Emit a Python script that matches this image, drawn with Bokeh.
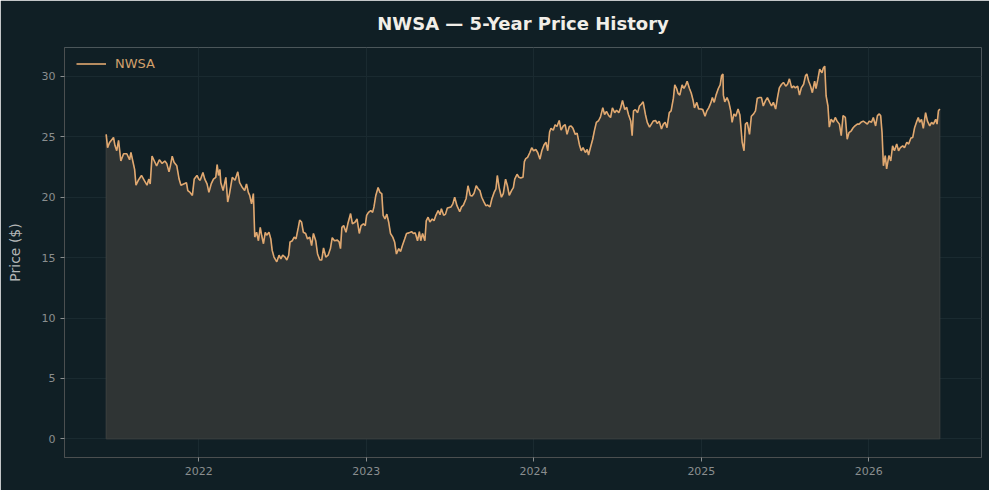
import numpy as np
import pandas as pd
from bokeh.plotting import figure
from bokeh.models import Range1d, FixedTicker, DatetimeTickFormatter, ColumnDataSource
from bokeh.embed import file_html
from bokeh.resources import INLINE

TITLE = "NWSA — 5-Year Price History"
SERIES_NAME = "NWSA"
Y_LABEL = "Price ($)"
Y_TICKS = [0, 5, 10, 15, 20, 25, 30]
X_TICK_YEARS = [2022, 2023, 2024, 2025, 2026]

dates_2021 = ["2021-06-13", "2021-06-16", "2021-06-20", "2021-06-29", "2021-07-02", "2021-07-06", "2021-07-10",
              "2021-07-15", "2021-07-21", "2021-07-28", "2021-08-03", "2021-08-06", "2021-08-10", "2021-08-14",
              "2021-08-17", "2021-08-22", "2021-08-29", "2021-09-04", "2021-09-10", "2021-09-14", "2021-09-17",
              "2021-09-21", "2021-09-26", "2021-10-01", "2021-10-07", "2021-10-13", "2021-10-19", "2021-10-23",
              "2021-10-28", "2021-10-31", "2021-11-04", "2021-11-08", "2021-11-14", "2021-11-19", "2021-11-23",
              "2021-11-29", "2021-12-05", "2021-12-08", "2021-12-13", "2021-12-18", "2021-12-22", "2021-12-28"]
prices_2021 = [25.2, 24.1, 24.5, 24.95, 24.3, 23.85, 24.7,
               23.0, 23.6, 23.6, 23.1, 23.7, 23.0, 22.3,
               21.0, 21.4, 21.8, 21.4, 21.0, 21.5, 21.1,
               23.4, 23.0, 22.6, 23.1, 22.8, 23.0, 22.8,
               22.1, 22.6, 23.4, 22.9, 22.6, 21.5, 21.0,
               21.1, 21.2, 20.55, 20.4, 20.15, 21.5, 21.8]

dates_2022 = ["2022-01-01", "2022-01-04", "2022-01-10", "2022-01-14", "2022-01-19", "2022-01-23", "2022-01-28",
              "2022-02-02", "2022-02-07", "2022-02-10", "2022-02-13", "2022-02-16", "2022-02-18", "2022-02-23",
              "2022-03-01", "2022-03-05", "2022-03-09", "2022-03-15", "2022-03-21", "2022-03-27", "2022-03-31",
              "2022-04-06", "2022-04-11", "2022-04-15", "2022-04-19", "2022-04-22", "2022-04-26", "2022-04-30",
              "2022-05-03", "2022-05-07", "2022-05-11", "2022-05-15", "2022-05-18", "2022-05-22", "2022-05-26",
              "2022-05-29", "2022-06-03", "2022-06-07", "2022-06-10", "2022-06-14", "2022-06-20", "2022-06-25",
              "2022-06-29", "2022-07-03", "2022-07-08", "2022-07-12", "2022-07-16", "2022-07-19", "2022-07-24",
              "2022-07-28", "2022-08-01", "2022-08-06", "2022-08-09", "2022-08-13", "2022-08-17", "2022-08-22",
              "2022-08-26", "2022-08-31", "2022-09-04", "2022-09-08", "2022-09-13", "2022-09-17", "2022-09-22",
              "2022-09-26", "2022-09-30", "2022-10-05", "2022-10-10", "2022-10-15", "2022-10-19", "2022-10-24",
              "2022-10-30", "2022-11-03", "2022-11-06", "2022-11-09", "2022-11-13", "2022-11-18", "2022-11-22",
              "2022-11-28", "2022-12-02", "2022-12-08", "2022-12-12", "2022-12-17", "2022-12-21", "2022-12-26",
              "2022-12-30"]
prices_2022 = [21.5, 21.4, 22.05, 21.5, 21.1, 20.4, 21.1,
               21.5, 21.65, 22.7, 21.8, 22.3, 21.2, 20.55,
               21.65, 19.6, 20.3, 21.65, 21.4, 22.1, 21.2,
               20.8, 20.55, 21.1, 20.4, 20.15, 19.45, 20.3,
               16.7, 17.1, 16.4, 17.5, 16.85, 16.15, 17.1,
               16.85, 17.1, 16.55, 15.6, 15.05, 14.65, 15.2,
               14.9, 15.2, 15.05, 14.8, 15.2, 16.3, 16.4,
               16.7, 16.55, 17.5, 18.1, 17.95, 17.1, 17.0,
               16.55, 16.7, 16.0, 17.0, 16.4, 15.3, 14.8,
               14.8, 15.8, 15.05, 15.2, 15.75, 16.65, 16.4,
               16.45, 16.3, 15.75, 17.5, 17.65, 17.1, 17.8,
               18.65, 17.8, 17.95, 18.2, 17.0, 17.65, 17.8,
               17.65]

dates_2023 = ["2023-01-02", "2023-01-06", "2023-01-11", "2023-01-15", "2023-01-18", "2023-01-22", "2023-01-27",
              "2023-01-31", "2023-02-04", "2023-02-07", "2023-02-11", "2023-02-15", "2023-02-19", "2023-02-23",
              "2023-02-28", "2023-03-04", "2023-03-08", "2023-03-13", "2023-03-17", "2023-03-21", "2023-03-26",
              "2023-03-30", "2023-04-04", "2023-04-10", "2023-04-14", "2023-04-18", "2023-04-23", "2023-04-27",
              "2023-04-30", "2023-05-04", "2023-05-09", "2023-05-12", "2023-05-16", "2023-05-20", "2023-05-25",
              "2023-05-29", "2023-06-02", "2023-06-07", "2023-06-11", "2023-06-14", "2023-06-19", "2023-06-23",
              "2023-06-27", "2023-07-05", "2023-07-09", "2023-07-13", "2023-07-18", "2023-07-24", "2023-07-28",
              "2023-08-01", "2023-08-07", "2023-08-11", "2023-08-16", "2023-08-20", "2023-08-24", "2023-08-29",
              "2023-09-02", "2023-09-06", "2023-09-10", "2023-09-15", "2023-09-19", "2023-09-23", "2023-09-28",
              "2023-10-02", "2023-10-07", "2023-10-11", "2023-10-14", "2023-10-18", "2023-10-23", "2023-10-27",
              "2023-11-01", "2023-11-05", "2023-11-09", "2023-11-14", "2023-11-18", "2023-11-21", "2023-11-26",
              "2023-11-30", "2023-12-04", "2023-12-09", "2023-12-12", "2023-12-15", "2023-12-19", "2023-12-24",
              "2023-12-28"]
prices_2023 = [18.5, 18.75, 18.9, 18.75, 19.2, 20.15, 20.8,
               20.4, 20.3, 18.5, 18.2, 18.6, 17.95, 17.0,
               16.7, 16.3, 15.3, 15.75, 15.5, 16.0, 16.55,
               17.0, 17.05, 17.15, 17.0, 17.05, 16.4, 17.15,
               16.4, 17.0, 16.4, 18.05, 18.35, 17.95, 18.2,
               18.05, 18.5, 18.9, 18.55, 19.05, 18.5, 18.6,
               19.1, 19.2, 19.45, 20.0, 19.3, 18.8, 19.2,
               19.35, 19.9, 20.95, 20.15, 20.1, 20.3, 20.95,
               20.7, 20.55, 20.0, 19.6, 19.3, 19.35, 19.2,
               19.85, 20.4, 20.7, 21.8, 20.8, 20.0, 20.3,
               21.5, 20.95, 20.15, 20.55, 20.8, 21.5, 21.9,
               21.65, 21.6, 21.65, 22.95, 23.2, 23.3, 23.7,
               24.1]

dates_2024 = ["2024-01-01", "2024-01-06", "2024-01-10", "2024-01-15", "2024-01-19", "2024-01-24", "2024-01-28",
              "2024-02-01", "2024-02-05", "2024-02-08", "2024-02-13", "2024-02-17", "2024-02-21", "2024-02-26",
              "2024-03-01", "2024-03-06", "2024-03-10", "2024-03-14", "2024-03-19", "2024-03-23", "2024-03-27",
              "2024-04-01", "2024-04-05", "2024-04-10", "2024-04-14", "2024-04-18", "2024-04-23", "2024-04-27",
              "2024-04-30", "2024-05-04", "2024-05-09", "2024-05-13", "2024-05-17", "2024-05-22", "2024-05-26",
              "2024-05-31", "2024-06-04", "2024-06-08", "2024-06-13", "2024-06-17", "2024-06-21", "2024-06-26",
              "2024-06-30", "2024-07-05", "2024-07-09", "2024-07-13", "2024-07-18", "2024-07-22", "2024-07-26",
              "2024-07-31", "2024-08-03", "2024-08-06", "2024-08-10", "2024-08-15", "2024-08-19", "2024-08-23",
              "2024-08-27", "2024-09-01", "2024-09-05", "2024-09-10", "2024-09-14", "2024-09-18", "2024-09-23",
              "2024-09-27", "2024-10-01", "2024-10-06", "2024-10-10", "2024-10-14", "2024-10-18", "2024-10-23",
              "2024-10-27", "2024-11-01", "2024-11-04", "2024-11-08", "2024-11-11", "2024-11-15", "2024-11-20",
              "2024-11-24", "2024-11-28", "2024-12-01", "2024-12-06", "2024-12-10", "2024-12-14", "2024-12-17",
              "2024-12-22", "2024-12-26", "2024-12-31"]
prices_2024 = [23.85, 23.95, 23.7, 23.15, 23.85, 24.35, 24.55,
               23.85, 25.4, 25.7, 25.55, 26.0, 25.85, 26.35,
               25.55, 25.9, 26.0, 25.2, 25.85, 25.9, 25.7,
               25.2, 25.3, 24.35, 23.85, 24.1, 23.7, 23.95,
               23.5, 24.1, 24.8, 25.55, 26.2, 26.35, 26.65,
               27.4, 26.85, 27.1, 26.75, 26.6, 27.4, 27.0,
               27.2, 27.0, 27.4, 28.0, 27.25, 27.45, 26.85,
               26.3, 25.1, 27.15, 27.25, 27.0, 27.55, 27.7,
               27.9, 26.85, 26.2, 25.8, 26.05, 26.3, 26.35,
               26.1, 26.3, 25.65, 26.05, 26.2, 25.75, 27.0,
               27.15, 28.2, 29.3, 29.0, 28.6, 28.45, 29.3,
               29.0, 29.3, 29.6, 29.0, 28.6, 28.0, 27.4,
               27.85, 27.3, 27.3]

dates_2025 = ["2025-01-04", "2025-01-09", "2025-01-13", "2025-01-17", "2025-01-22", "2025-01-25", "2025-01-29",
              "2025-02-02", "2025-02-07", "2025-02-11", "2025-02-14", "2025-02-17", "2025-02-18", "2025-02-21",
              "2025-02-26", "2025-03-02", "2025-03-06", "2025-03-09", "2025-03-13", "2025-03-17", "2025-03-22",
              "2025-03-26", "2025-03-31", "2025-04-04", "2025-04-07", "2025-04-11", "2025-04-16", "2025-04-20",
              "2025-04-25", "2025-04-29", "2025-05-03", "2025-05-08", "2025-05-12", "2025-05-16", "2025-05-21",
              "2025-05-25", "2025-05-30", "2025-06-03", "2025-06-07", "2025-06-12", "2025-06-16", "2025-06-20",
              "2025-06-25", "2025-06-29", "2025-07-04", "2025-07-08", "2025-07-12", "2025-07-17", "2025-07-21",
              "2025-07-25", "2025-07-30", "2025-08-03", "2025-08-07", "2025-08-12", "2025-08-16", "2025-08-19",
              "2025-08-23", "2025-08-27", "2025-08-31", "2025-09-05", "2025-09-08", "2025-09-12", "2025-09-16",
              "2025-09-21", "2025-09-24", "2025-09-27", "2025-09-30", "2025-10-04", "2025-10-07", "2025-10-11",
              "2025-10-16", "2025-10-20", "2025-10-24", "2025-10-29", "2025-11-02", "2025-11-06", "2025-11-11",
              "2025-11-15", "2025-11-19", "2025-11-24", "2025-11-28", "2025-12-02", "2025-12-07", "2025-12-11",
              "2025-12-15", "2025-12-20", "2025-12-24", "2025-12-29"]
prices_2025 = [27.25, 26.7, 27.15, 27.4, 27.85, 28.25, 27.85,
               28.45, 29.0, 29.3, 30.05, 30.2, 28.45, 27.9,
               28.25, 27.85, 27.15, 26.2, 26.9, 26.7, 27.3,
               26.8, 24.55, 23.85, 26.05, 26.2, 25.2, 26.7,
               26.9, 27.15, 28.2, 28.25, 28.25, 27.55, 28.0,
               28.25, 27.85, 27.55, 27.85, 27.3, 28.25, 29.05,
               29.35, 29.5, 29.2, 29.35, 29.8, 29.05, 29.2,
               29.05, 29.2, 28.45, 29.05, 29.35, 30.05, 30.2,
               29.6, 29.2, 28.65, 29.6, 29.0, 29.75, 30.6,
               30.3, 30.7, 30.85, 28.4, 27.55, 25.8, 26.45,
               26.2, 26.6, 26.3, 26.05, 25.1, 26.75, 26.6,
               24.8, 25.35, 25.5, 25.75, 25.9, 26.05, 26.05,
               26.2, 26.3, 26.2, 26.05]

dates_2026 = ["2026-01-02", "2026-01-07", "2026-01-11", "2026-01-16", "2026-01-20", "2026-01-24", "2026-01-27",
              "2026-01-30", "2026-02-02", "2026-02-06", "2026-02-09", "2026-02-14", "2026-02-18", "2026-02-22",
              "2026-02-26", "2026-03-03", "2026-03-07", "2026-03-11", "2026-03-16", "2026-03-20", "2026-03-25",
              "2026-03-29", "2026-04-03", "2026-04-07", "2026-04-11", "2026-04-16", "2026-04-19", "2026-04-22",
              "2026-04-26", "2026-04-30", "2026-05-05", "2026-05-09", "2026-05-14", "2026-05-18", "2026-05-22",
              "2026-05-27", "2026-05-30", "2026-06-02", "2026-06-05"]
prices_2026 = [26.3, 26.2, 26.6, 25.9, 26.75, 26.9, 26.75,
               25.35, 22.6, 23.45, 22.35, 23.45, 23.0, 24.25,
               23.85, 24.4, 23.85, 24.1, 24.25, 24.1, 24.55,
               24.4, 24.9, 24.95, 25.75, 26.3, 26.6, 26.2,
               26.45, 25.7, 27.0, 26.3, 25.9, 26.2, 26.05,
               26.45, 26.05, 27.15, 27.3]

dates = dates_2021 + dates_2022 + dates_2023 + dates_2024 + dates_2025 + dates_2026
prices = prices_2021 + prices_2022 + prices_2023 + prices_2024 + prices_2025 + prices_2026

EPOCH = pd.Timestamp("1970-01-01")
def to_ms(ts):
    return float((pd.Timestamp(ts) - EPOCH) / pd.Timedelta(milliseconds=1))

x_ms = [to_ms(d) for d in dates]
src = ColumnDataSource(dict(x=x_ms, y=prices))

span = x_ms[-1] - x_ms[0]
x0, x1 = x_ms[0] - 0.05 * span, x_ms[-1] + 0.05 * span
ymax = max(prices)
ypad = 0.05 * ymax

BG = "#101f25"
p = figure(width=989, height=490, output_backend="svg", toolbar_location=None,
           x_axis_type="datetime",
           x_range=Range1d(x0, x1), y_range=Range1d(-ypad, ymax + ypad),
           min_border_left=64, min_border_right=8, min_border_top=46, min_border_bottom=33)
p.background_fill_color = BG
p.border_fill_color = BG
p.outline_line_color = None

p.title.text = TITLE
p.title.align = "center"
p.title.vertical_align = "top"
p.title.text_color = "#f1eee8"
p.title.text_font = "DejaVu Sans"
p.title.text_font_size = "18px"
p.title.text_font_style = "bold"
p.title.standoff = 24

# area
area_x = [x_ms[0]] + x_ms + [x_ms[-1]]
area_y = [0] + prices + [0]
p.patch(area_x, area_y, fill_color="#2f3434", fill_alpha=1.0, line_color="#3e4240", line_width=1)

p.line("x", "y", source=src, line_color="#e0a870", line_width=1.6, legend_label=SERIES_NAME)

# axes
p.xaxis.ticker = FixedTicker(ticks=[to_ms(f"{yr}-01-01") for yr in X_TICK_YEARS])
fmt = "%Y"
p.xaxis.formatter = DatetimeTickFormatter(years=fmt, months=fmt, days=fmt, hours=fmt, hourmin=fmt,
                                          minutes=fmt, minsec=fmt, seconds=fmt, milliseconds=fmt)
p.yaxis.ticker = FixedTicker(ticks=Y_TICKS)
p.yaxis.axis_label = Y_LABEL
p.yaxis.axis_label_text_color = "#b3b6b6"
p.yaxis.axis_label_text_font = "DejaVu Sans"
p.yaxis.axis_label_text_font_size = "14px"
p.yaxis.axis_label_text_font_style = "normal"
p.yaxis.axis_label_standoff = 16

for ax in (p.xaxis, p.yaxis):
    ax.axis_line_color = "#4b4f50"
    ax.major_tick_line_color = "#8a8e8f"
    ax.major_tick_out = 4
    ax.major_tick_in = 0
    ax.minor_tick_line_color = None
    ax.major_label_text_color = "#8a8e8f"
    ax.major_label_text_font = "DejaVu Sans"
    ax.major_label_text_font_size = "11px"
    ax.major_label_standoff = 5

p.grid.grid_line_color = "#1a2a30"
p.grid.grid_line_width = 1

lg = p.legend[0]
lg.location = (12, 386)
lg.background_fill_alpha = 0
lg.border_line_alpha = 0
lg.margin = 0
lg.padding = 0
lg.glyph_width = 30
lg.glyph_height = 15
lg.label_height = 15
lg.label_standoff = 9
lg.label_text_color = "#d2a06c"
lg.label_text_font = "DejaVu Sans"
lg.label_text_font_size = "13px"

open("out.html", "w").write(file_html(p, INLINE))
